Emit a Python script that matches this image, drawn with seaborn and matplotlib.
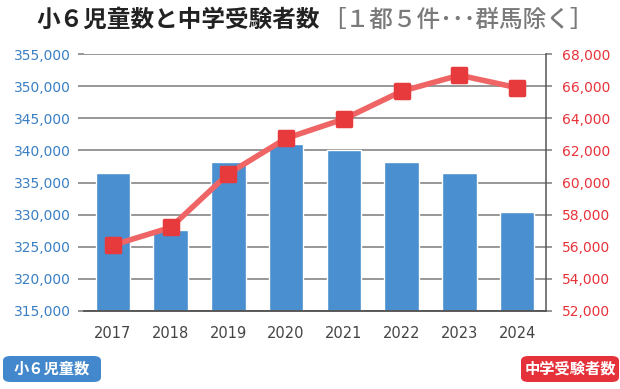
import numpy as np
import pandas as pd
import matplotlib
matplotlib.use('Agg')
import matplotlib.pyplot as plt
from matplotlib.markers import MarkerStyle
from matplotlib.patches import FancyBboxPatch
from matplotlib.ticker import FuncFormatter
import seaborn as sns

# =====================
# Data
# =====================
years = ['2017', '2018', '2019', '2020', '2021', '2022', '2023', '2024']
children = [336450, 327650, 338150, 340950, 340000, 338150, 336550, 330450]   # 小6児童数
examinees = [56100, 57200, 60550, 62750, 63950, 65680, 66680, 65900]         # 中学受験者数

left_ticks = list(range(315000, 355001, 5000))
right_ticks = list(range(52000, 68001, 2000))

df = pd.DataFrame({'year': years, 'children': children, 'examinees': examinees})

# =====================
# Style
# =====================
sns.set_style('white')
plt.rcParams['font.family'] = ['DejaVu Sans', 'Noto Sans CJK JP']
cjk = ['Noto Sans CJK JP', 'DejaVu Sans']

blue = '#4a8fcf'
red_line = '#ef6464'
red_mark = '#e63a3c'
grid_col = '#7a7a7a'

fig = plt.figure(figsize=(6.2, 3.89), dpi=100)
ax = fig.add_axes([84 / 620, 1 - 311 / 389, (546 - 84) / 620, (311 - 54) / 389])

# bars
sns.barplot(data=df, x='year', y='children', color=blue, width=0.6,
            saturation=1, ax=ax, zorder=2)
ax.set_ylim(left_ticks[0], left_ticks[-1])
ax.set_yticks(left_ticks)
ax.yaxis.set_major_formatter(FuncFormatter(lambda v, p: f'{int(v):,}'))
ax.set_xlabel('')
ax.set_ylabel('')
ax.set_axisbelow(True)
ax.grid(axis='y', color=grid_col, lw=1.1)
ax.tick_params(axis='y', length=4.5, width=1.1, color=grid_col, pad=5,
               labelsize=10, labelcolor='#3a7fc4', left=True)
ax.tick_params(axis='x', length=0, pad=11, labelsize=10.5, labelcolor='#444444')

# line
ax2 = ax.twinx()
sq = MarkerStyle('s', joinstyle='round')
sns.lineplot(x=np.arange(len(years)), y=df['examinees'], ax=ax2, color=red_line,
             lw=4, marker=sq, markersize=10.5, markerfacecolor=red_mark,
             markeredgecolor=red_mark, markeredgewidth=2.5, zorder=5)
ax2.set_ylim(right_ticks[0], right_ticks[-1])
ax2.set_yticks(right_ticks)
ax2.yaxis.set_major_formatter(FuncFormatter(lambda v, p: f'{int(v):,}'))
ax2.set_ylabel('')
ax2.tick_params(axis='y', length=4.5, width=1.1, color=grid_col, pad=7,
                labelsize=10, labelcolor='#e8333a')
ax2.grid(False)
ax.set_xlim(-0.5, len(years) - 0.5)

for a in (ax, ax2):
    for s in ('top', 'left', 'right'):
        a.spines[s].set_visible(False)
    a.spines['bottom'].set_color('#555555')
    a.spines['bottom'].set_linewidth(1.1)
ax2.spines['right'].set_visible(True)
ax2.spines['right'].set_color('#555555')
ax2.spines['right'].set_linewidth(1.1)

# title
t1 = fig.text(36 / 620, 1 - 20 / 389, '小６児童数と中学受験者数', family=cjk,
              fontsize=17, fontweight='bold', color='#222222', va='center', ha='left')
fig.canvas.draw()
bb = t1.get_window_extent()
fig.text(bb.x1 / 620 + 0.004, 1 - 20 / 389, '［１都５件･･･群馬除く］', family=cjk,
         fontsize=17, fontweight='medium', color='#7a7a7a', va='center', ha='left')

# legend badges
def badge(x0, x1, y0, y1, color, label):
    fig.patches.append(FancyBboxPatch(
        (x0 / 620, 1 - y1 / 389), (x1 - x0) / 620, (y1 - y0) / 389,
        boxstyle='round,pad=0,rounding_size=0.012', transform=fig.transFigure,
        facecolor=color, edgecolor='none'))
    fig.text((x0 + x1) / 2 / 620, 1 - (y0 + y1) / 2 / 389, label, family=cjk,
             fontsize=11, fontweight='bold', color='white', ha='center', va='center')

badge(3, 101, 356, 382, '#4388cc', '小６児童数')
badge(521, 619, 356, 382, '#e5323a', '中学受験者数')

fig.savefig('out.png', dpi=100)
